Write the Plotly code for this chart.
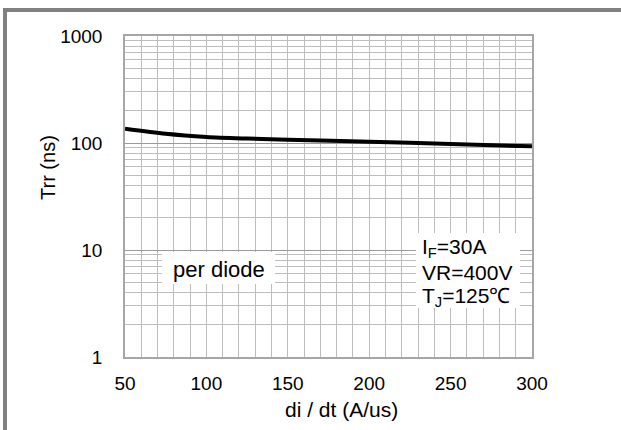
import plotly.graph_objects as go

di_dt = [50, 75, 100, 125, 150, 200, 250, 300]
trr_ns = [136, 122, 114, 110, 107, 103, 98, 93]
x_ticks = [50, 100, 150, 200, 250, 300]
y_ticks = [1, 10, 100, 1000]
y_tick_labels = ["1", "10", "100", "1000"]
cond_lines = ["I<sub>F</sub>=30A", "VR=400V", "T<sub>J</sub>=125℃"]

FONT = "Arial, Liberation Sans, sans-serif"
GRID = "#bdbdbd"

# plot area in pixels: x 125..532, y 36..357
def px(x):
    return (x - 125) / 407

def py(y):
    return (357 - y) / 321

fig = go.Figure()
fig.add_trace(go.Scatter(
    x=di_dt, y=trr_ns, mode="lines",
    line=dict(color="black", width=4, shape="spline", smoothing=0.8),
    showlegend=False, hoverinfo="skip",
))

annotations = [
    dict(x=px(219), y=py(269), xref="paper", yref="paper", text="per diode",
         showarrow=False, font=dict(size=22), xanchor="center", yanchor="middle"),
    dict(x=px(48), y=py(168), xref="paper", yref="paper", text="Trr (ns)",
         showarrow=False, font=dict(size=20), textangle=-90,
         xanchor="center", yanchor="middle"),
    dict(x=px(341), y=py(410), xref="paper", yref="paper", text="di / dt (A/us)",
         showarrow=False, font=dict(size=21), xanchor="center", yanchor="middle"),
]
for i, t in enumerate(cond_lines):
    annotations.append(dict(
        x=px(420), y=py(248 + 24.5 * i), xref="paper", yref="paper", text=t,
        showarrow=False, font=dict(size=21), xanchor="left", yanchor="middle"))

fig.update_layout(
    width=621, height=430,
    margin=dict(l=125, r=89, t=36, b=73),
    paper_bgcolor="white", plot_bgcolor="white",
    font=dict(family=FONT, size=19, color="black"),
    xaxis=dict(
        range=[50, 300], tickvals=x_ticks, ticks="", ticklen=0,
        showgrid=True, gridcolor=GRID, gridwidth=1.3,
        minor=dict(dtick=10, showgrid=True, gridcolor=GRID, gridwidth=1.3, ticks=""),
        showline=True, linecolor="#a6a6a6", linewidth=1.5, mirror=True,
        zeroline=False, ticklabelstandoff=8,
        tickfont=dict(size=19),
    ),
    yaxis=dict(
        type="log", range=[0, 3], tickvals=y_ticks, ticktext=y_tick_labels,
        ticks="", showgrid=True, gridcolor="#9a9a9a", gridwidth=1.3,
        minor=dict(dtick="D1", showgrid=True, gridcolor=GRID, gridwidth=1.3, ticks=""),
        showline=True, linecolor="#a6a6a6", linewidth=1.5, mirror=True,
        zeroline=False, ticklabelstandoff=17,
        tickfont=dict(size=19),
    ),
    annotations=annotations,
    shapes=[
        dict(type="rect", xref="paper", yref="paper",
             x0=px(162), x1=px(275), y0=py(284), y1=py(252),
             fillcolor="white", line=dict(width=0), layer="above"),
        dict(type="rect", xref="paper", yref="paper",
             x0=px(416), x1=px(520), y0=py(308), y1=py(233),
             fillcolor="white", line=dict(width=0), layer="above"),
        dict(type="rect", xref="paper", yref="paper",
             x0=px(5), x1=px(720), y0=py(520), y1=py(10),
             line=dict(color="#808080", width=4), layer="above"),
    ],
)

fig.write_html("out.html", config={"displayModeBar": False},
               post_script="document.body.style.margin='0px';document.body.style.overflow='hidden';")
